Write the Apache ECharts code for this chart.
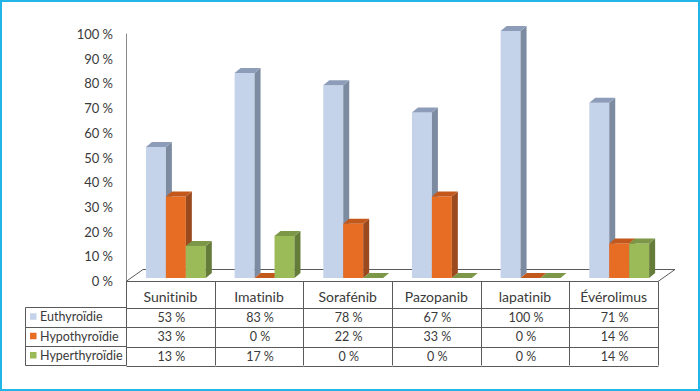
<!DOCTYPE html>
<html><head><meta charset="utf-8">
<script src="https://cdn.jsdelivr.net/npm/echarts@6/dist/echarts.min.js"></script>
<style>html,body{margin:0;padding:0;background:#fff}#c{width:700px;height:391px}#c text,#c tspan{font-variant-ligatures:none !important;font-feature-settings:"liga" 0,"clig" 0,"dlig" 0 !important}</style>
</head><body><div id="c"></div>
<script>
const categories = ['Sunitinib','Imatinib','Sorafénib','Pazopanib','lapatinib','Évérolimus'];
const seriesNames = ['Euthyroïdie','Hypothyroïdie','Hyperthyroïdie'];
const euthyroidie = [53,83,78,67,100,71];
const hypothyroidie = [33,0,22,33,0,14];
const hyperthyroidie = [13,17,0,0,0,14];
const yMin = 0, yMax = 100, yStep = 10;

const seriesValues = [euthyroidie, hypothyroidie, hyperthyroidie];
const faceColors = [
  {front:'#C5D3EA', side:'#7D8BA1', top:'#8D9DB9'},
  {front:'#E86D24', side:'#9B4A1F', top:'#C3581D'},
  {front:'#9BBB59', side:'#647B39', top:'#7C9747'}
];
const FONT = 'Lato, "Open Sans", sans-serif';
const TXT = '#3a3a3a';
const LINE = '#5a5a5a';
const DEPTH = [6,-5];     // bar 3D depth
const SHIFT = [0,-3];     // bar plane offset from floor front
const FLOOR = [17,-12];   // floor depth
const ROWS = [0,26,45.5,65,84];

function barRenderer(s){
  return function(params, api){
    const i = api.value(0), v = api.value(1);
    const base = api.coord([i,0]), top = api.coord([i,v]);
    const band = api.size([1,0])[0];
    const w = band*0.225;
    const x0 = base[0] - band/2 + band*0.225 + s*w + SHIFT[0];
    const yb = base[1] + SHIFT[1], yt = top[1] + SHIFT[1];
    const c = faceColors[s];
    const ch = [];
    if (yb - yt > 0.1) {
      ch.push({type:'rect', shape:{x:x0, y:yt, width:w, height:yb-yt}, style:{fill:c.front}});
      ch.push({type:'polygon', shape:{points:[[x0+w,yt],[x0+w+DEPTH[0],yt+DEPTH[1]],[x0+w+DEPTH[0],yb+DEPTH[1]],[x0+w,yb]]}, style:{fill:c.side}});
    }
    ch.push({type:'polygon', shape:{points:[[x0,yt],[x0+DEPTH[0],yt+DEPTH[1]],[x0+w+DEPTH[0],yt+DEPTH[1]],[x0+w,yt]]}, style:{fill:c.top}});
    return {type:'group', children:ch};
  };
}

function floorRenderer(params, api){
  const band = api.size([1,0])[0];
  const L = api.coord([0,0])[0] - band/2;
  const R = api.coord([categories.length-1,0])[0] + band/2;
  const y = Math.round(api.coord([0,0])[1]) + 0.5;
  const st = {stroke:LINE, lineWidth:1};
  return {type:'group', children:[
    {type:'polygon', shape:{points:[[L,y],[L+FLOOR[0],y+FLOOR[1]],[R+FLOOR[0],y+FLOOR[1]],[R,y]]}, style:{fill:'#fff'}},
    {type:'line', shape:{x1:L,y1:y,x2:L+FLOOR[0],y2:y+FLOOR[1]}, style:st},
    {type:'line', shape:{x1:L+FLOOR[0],y1:y+FLOOR[1],x2:R+FLOOR[0],y2:y+FLOOR[1]}, style:st},
    {type:'line', shape:{x1:R,y1:y,x2:R+FLOOR[0],y2:y+FLOOR[1]}, style:st},
    {type:'line', shape:{x1:L,y1:y,x2:R,y2:y}, style:st}
  ]};
}

function tableRenderer(params, api){
  const i = api.value(0);
  const band = api.size([1,0])[0];
  const cx = api.coord([i,0])[0];
  const y0 = Math.round(api.coord([i,0])[1]) + 0.5;
  const L = Math.round(cx - band/2) + 0.5, R = Math.round(cx + band/2) + 0.5;
  const st = {stroke:LINE, lineWidth:1};
  const ch = [];
  ch.push({type:'line', shape:{x1:R,y1:y0,x2:R,y2:y0+ROWS[4]}, style:st});
  if (i === 0) ch.push({type:'line', shape:{x1:L,y1:y0,x2:L,y2:y0+ROWS[4]}, style:st});
  for (let r=1;r<ROWS.length;r++){
    const yy = Math.round(y0+ROWS[r]) + 0.5;
    ch.push({type:'line', shape:{x1:L,y1:yy,x2:R,y2:yy}, style:st});
  }
  ch.push({type:'text', x:cx, y:y0+(ROWS[0]+ROWS[1])/2+2, style:{text:categories[i], font:'14px '+FONT, fill:TXT, textAlign:'center', textVerticalAlign:'middle'}});
  for (let s=0;s<3;s++){
    ch.push({type:'text', x:cx+1, y:y0+(ROWS[s+1]+ROWS[s+2])/2, style:{text:seriesValues[s][i]+' %', font:'12.5px '+FONT, fill:TXT, textAlign:'center', textVerticalAlign:'middle'}});
  }
  return {type:'group', children:ch};
}

const chart = echarts.init(document.getElementById('c'), null, {renderer:'svg'});
const gridTop = 34, gridBottom = 110, gridLeft = 126, gridRight = 42;
const y0px = 391 - gridBottom;

const graphic = [
  {type:'rect', shape:{x:1,y:1,width:698,height:389}, style:{fill:'none', stroke:'#22B5E8', lineWidth:2}, z:100}
];
const legL = 25.5, legR = gridLeft + 0.5;
graphic.push({type:'line', shape:{x1:legL,y1:Math.round(y0px+ROWS[1])+0.5,x2:legL,y2:Math.round(y0px+ROWS[4])+0.5}, style:{stroke:LINE,lineWidth:1}});
for (let r=1;r<ROWS.length;r++){
  const yy = Math.round(y0px+ROWS[r])+0.5;
  graphic.push({type:'line', shape:{x1:legL,y1:yy,x2:legR,y2:yy}, style:{stroke:LINE,lineWidth:1}});
}
for (let s=0;s<3;s++){
  const cy = y0px + (ROWS[s+1]+ROWS[s+2])/2;
  graphic.push({type:'rect', shape:{x:30,y:cy-3.5,width:6.5,height:6.5}, style:{fill:faceColors[s].front}});
  graphic.push({type:'text', x:40, y:cy, style:{text:seriesNames[s], font:'12.5px '+FONT, fill:TXT, textAlign:'left', textVerticalAlign:'middle'}});
}

const series = [
  {type:'custom', name:'floor', renderItem:floorRenderer, data:[[0,0]], silent:true, z:1}
];
for (let s=0;s<3;s++){
  series.push({type:'custom', name:seriesNames[s], renderItem:barRenderer(s),
    data:seriesValues[s].map((v,i)=>[i,v]), z:2+s});
}
series.push({type:'custom', name:'table', renderItem:tableRenderer, data:categories.map((c,i)=>[i,0]), z:10, silent:true});

chart.setOption({
  animation:false,
  backgroundColor:'#fff',
  grid:{top:gridTop, bottom:gridBottom, left:gridLeft, right:gridRight},
  xAxis:{type:'category', data:categories, show:false},
  yAxis:{type:'value', min:yMin, max:yMax, interval:yStep,
    axisLine:{show:true, lineStyle:{color:'#8a8a8a', width:1}},
    axisTick:{show:false}, splitLine:{show:false},
    axisLabel:{formatter:'{value} %', color:TXT, fontSize:13, fontFamily:FONT, margin:13}},
  graphic:graphic,
  series:series
});
</script></body></html>
